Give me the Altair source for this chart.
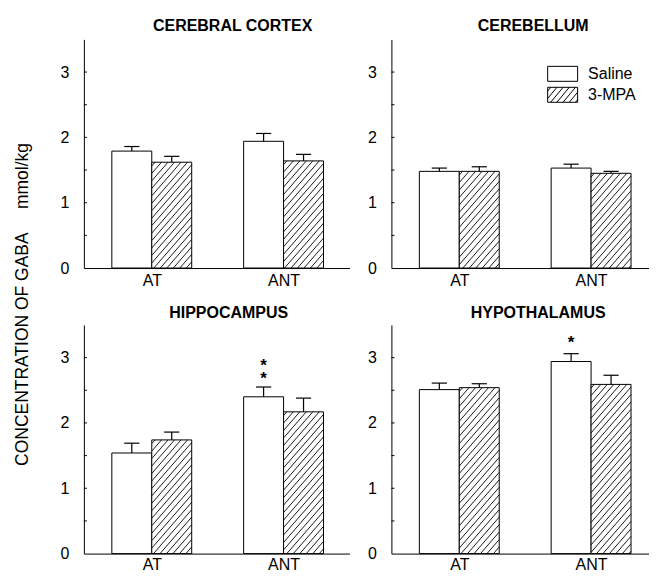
import altair as alt
import pandas as pd

# ---------------- data ----------------
regions = ["CEREBRAL CORTEX", "CEREBELLUM", "HIPPOCAMPUS", "HYPOTHALAMUS"]
groups = ["AT", "ANT"]
treatments = ["Saline", "3-MPA"]

saline_mean = [[1.79, 1.94], [1.48, 1.53], [1.54, 2.40], [2.51, 2.94]]
saline_sem = [[0.07, 0.12], [0.05, 0.06], [0.15, 0.15], [0.10, 0.12]]
mpa_mean = [[1.62, 1.64], [1.48, 1.45], [1.74, 2.17], [2.54, 2.59]]
mpa_sem = [[0.09, 0.10], [0.07, 0.03], [0.12, 0.21], [0.06, 0.14]]

star_region = ["HIPPOCAMPUS", "HIPPOCAMPUS", "HYPOTHALAMUS"]
star_group = ["ANT", "ANT", "ANT"]
star_y = [2.93, 2.73, 3.29]

y_labels = [0, 1, 2, 3]
y_minor = [0.5, 1, 1.5, 2, 2.5, 3]

# ---------------- layout ----------------
widths = [266, 258, 266, 258]
H = 229
KX = 40.0                      # pixels per x unit (same in every panel)
YMAX = 3.5
KY = H / YMAX
centers = [1.7, 5.0]
BARW = 1.0
CAP = 0.19
HATCH_SLOPE = 1.15
HATCH_STEP = 6.5

FONT = "Liberation Sans"
title_dx = [16, 13, 12, 18]
title_off = [5, 5, 4, 4]

rows = []
for ri, r in enumerate(regions):
    for gi, g in enumerate(groups):
        for ti, t in enumerate(treatments):
            m = (saline_mean if ti == 0 else mpa_mean)[ri][gi]
            s = (saline_sem if ti == 0 else mpa_sem)[ri][gi]
            x0 = centers[gi] - BARW + ti * BARW
            rows.append(dict(region=r, group=g, treatment=t, mean=m, top=m + s,
                             base=0.0, x0=x0, x1=x0 + BARW, xc=x0 + BARW / 2,
                             c0=x0 + BARW / 2 - CAP, c1=x0 + BARW / 2 + CAP))
bars = pd.DataFrame(rows)


def clip_lines(x0p, x1p, y0p, y1p, slope, step):
    segs = []
    c = x0p - (y1p - y0p) / slope + step / 2
    while c < x1p:
        xa = max(x0p, c)
        xb = min(x1p, c + (y1p - y0p) / slope)
        if xb > xa:
            segs.append((xa, y0p + slope * (xa - c), xb, y0p + slope * (xb - c)))
        c += step
    return segs


hrows = []
for _, b in bars[bars.treatment == treatments[1]].iterrows():
    for xa, ya, xb, yb in clip_lines(b.x0 * KX, b.x1 * KX, 0, b["mean"] * KY,
                                     HATCH_SLOPE, HATCH_STEP):
        hrows.append(dict(region=b.region, hx=xa / KX, hy=ya / KY,
                          hx2=xb / KX, hy2=yb / KY))
hatch = pd.DataFrame(hrows)

stars = pd.DataFrame(dict(region=star_region, group=star_group, sy=star_y))
stars["xc"] = [centers[groups.index(g)] - BARW / 2 for g in star_group]

# legend symbols (custom paths, unit box -1.5..1.5 x -0.75..0.75)
box = "M-1.5,-0.75H1.5V0.75H-1.5Z"
hp = ""
for xa, ya, xb, yb in clip_lines(-1.5, 1.5, 0, 1.5, 1.2, 0.62):
    hp += f"M{xa:.3f},{0.75 - ya:.3f}L{xb:.3f},{0.75 - yb:.3f}"
sym_paths = [box, box + hp]

yscale = alt.Scale(domain=[0, YMAX], nice=False)
mid = sum(centers) / 2
label_expr = f"datum.value < {mid} ? '{groups[0]}' : '{groups[1]}'"
ytitle = "CONCENTRATION OF GABA " + "\u00a0" * 4 + "mmol/kg"


def panel(i):
    r = regions[i]
    d = bars[bars.region == r]
    top_row = i < 2
    xscale = alt.Scale(domain=[0, widths[i] / KX], nice=False, zero=False)
    yaxis_kwargs = dict(values=y_labels, ticks=False, labelPadding=15, format="d",
                        title=None)
    if i == 0:
        yaxis_kwargs.update(title=ytitle, titleX=-61.5, titleY=265, titleAngle=270,
                            titleAlign="center", titleBaseline="middle",
                            titleFont=FONT, titleFontSize=17.5, titleFontWeight="normal",
                            titleColor="black")
    xaxis = alt.Axis(values=centers, labelExpr=label_expr, ticks=False, title=None,
                     labelPadding=4 if top_row else 3)
    rect = alt.Chart(d).mark_rect(fill="white", stroke="black", strokeWidth=1).encode(
        x=alt.X("x0:Q", scale=xscale, axis=xaxis),
        x2="x1:Q",
        y=alt.Y("mean:Q", scale=yscale, axis=alt.Axis(**yaxis_kwargs)),
        y2="base:Q",
    )
    h = alt.Chart(hatch[hatch.region == r]).mark_rule(color="black", strokeWidth=0.9).encode(
        x=alt.X("hx:Q", scale=xscale), x2="hx2:Q",
        y=alt.Y("hy:Q", scale=yscale), y2="hy2:Q",
    )
    ev = alt.Chart(d).mark_rule(color="black", strokeWidth=1.2).encode(
        x=alt.X("xc:Q", scale=xscale),
        y=alt.Y("mean:Q", scale=yscale), y2="top:Q",
    )
    cap = alt.Chart(d).mark_rule(color="black", strokeWidth=1.2).encode(
        x=alt.X("c0:Q", scale=xscale), x2="c1:Q",
        y=alt.Y("top:Q", scale=yscale),
    )
    ticks = alt.Chart(pd.DataFrame({"t": y_minor})).mark_rule(color="black").encode(
        y=alt.Y("t:Q", scale=yscale), x=alt.value(0), x2=alt.value(3),
    )
    layers = [rect, h, ev, cap, ticks]
    s = stars[stars.region == r]
    if len(s):
        layers.append(alt.Chart(s).mark_text(text="*", font=FONT, fontSize=17,
                                             fontWeight="bold", baseline="alphabetic",
                                             dy=9, color="black").encode(
            x=alt.X("xc:Q", scale=xscale), y=alt.Y("sy:Q", scale=yscale)))
    if i == 1:
        leg = alt.Chart(pd.DataFrame({"treatment": treatments})).mark_point(
            color="black", filled=False, strokeWidth=1).encode(
            shape=alt.Shape("treatment:N",
                            scale=alt.Scale(domain=treatments, range=sym_paths),
                            legend=alt.Legend(orient="none", legendX=469, legendY=24,
                                              title=None, symbolSize=400,
                                              labelFont=FONT, labelFontSize=16,
                                              labelColor="black", labelOffset=15,
                                              rowPadding=1, padding=0,
                                              symbolStrokeColor="black",
                                              symbolFillColor="white",
                                              symbolStrokeWidth=1, symbolOpacity=1))
        ).transform_filter("false")
        layers.append(leg)
    return alt.layer(*layers).properties(
        width=widths[i], height=H,
        title=alt.TitleParams(r, font=FONT, fontSize=16, fontWeight="bold",
                              color="black", anchor="middle", dx=title_dx[i],
                              offset=title_off[i]),
    )


chart = alt.concat(
    *[panel(i) for i in range(4)], columns=2, bounds="flush",
    spacing={"row": 57, "column": 42},
).configure_view(
    stroke=None
).configure_axis(
    grid=False, domainColor="black", domainWidth=1, labelColor="black",
    labelFont=FONT, labelFontSize=16,
).properties(padding={"left": 5, "top": 10, "right": 0, "bottom": 0})

chart.save("out.html", embed_options={"renderer": "svg", "actions": False})
